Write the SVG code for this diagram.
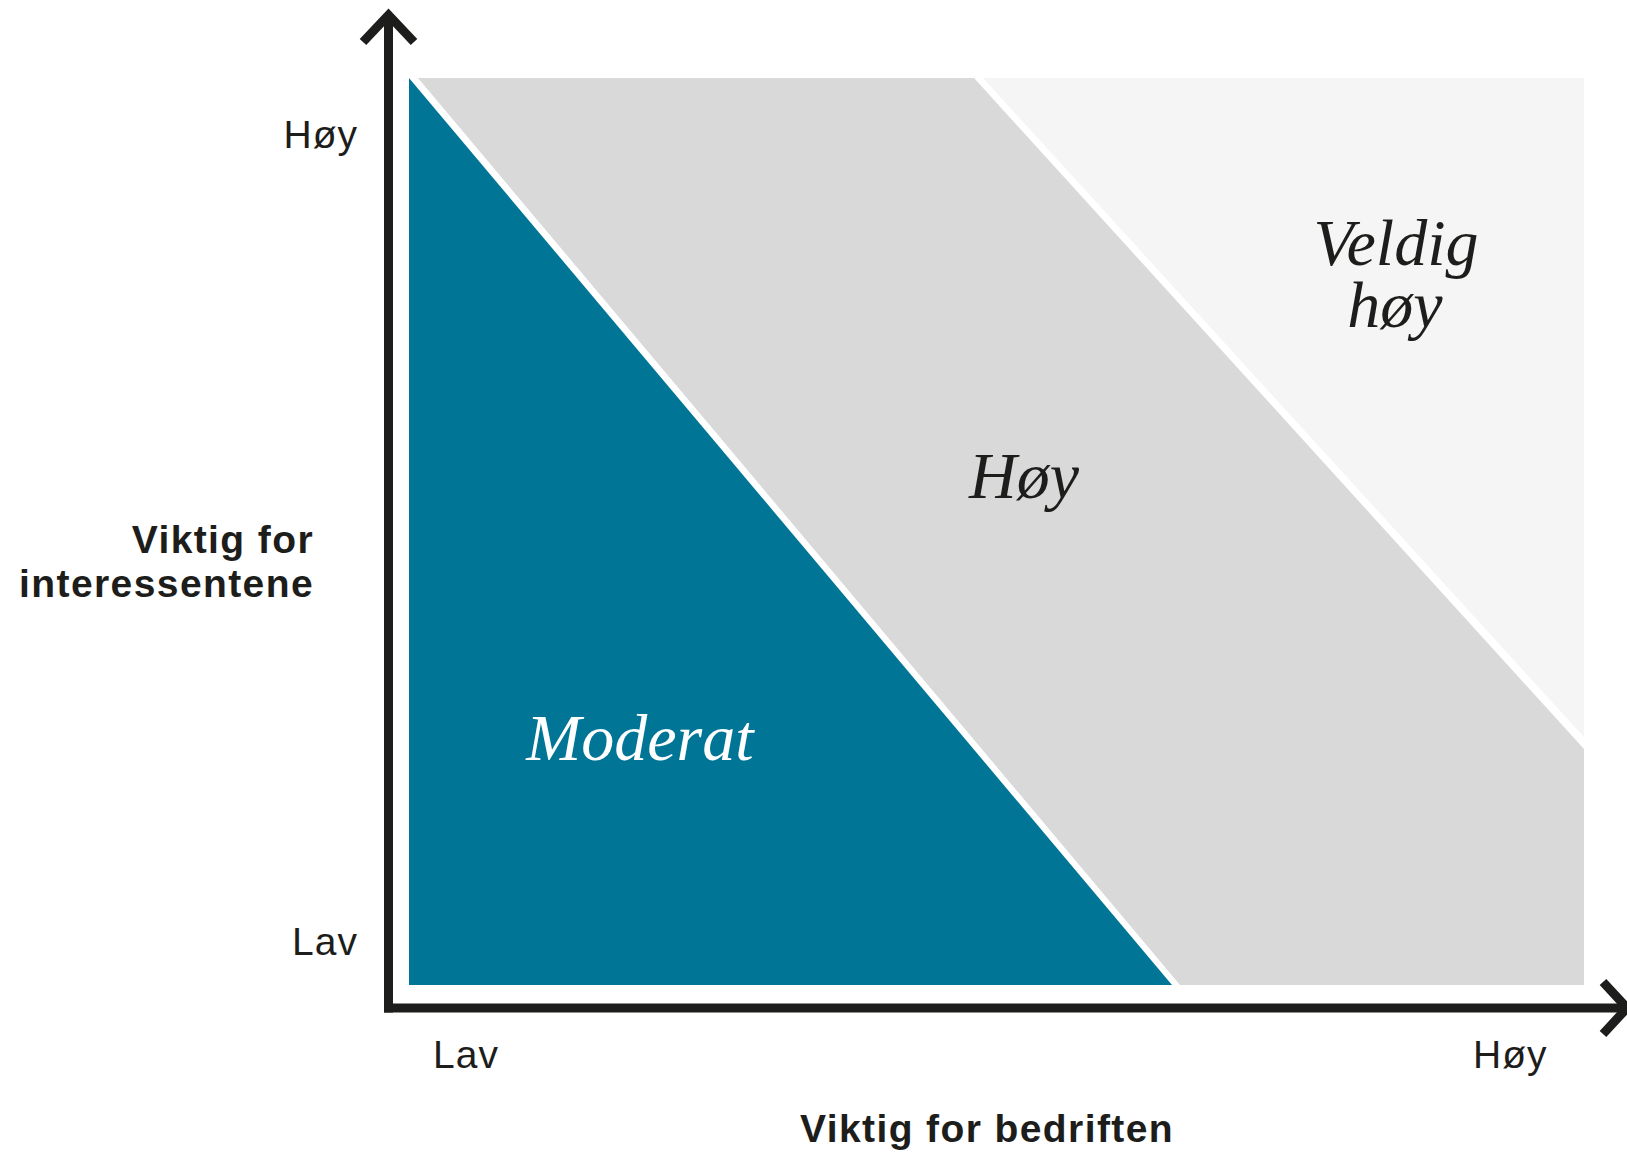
<svg xmlns="http://www.w3.org/2000/svg" width="1627" height="1154" viewBox="0 0 1627 1154">
<style>
.axis{fill:none;stroke:#1d1d1b;stroke-width:9;stroke-linejoin:miter;stroke-linecap:butt}
.lbl{font-family:"Liberation Sans",Arial,sans-serif;font-size:39px;fill:#1d1d1b;letter-spacing:1px}
.ttl{font-family:"Liberation Sans",Arial,sans-serif;font-size:39px;font-weight:bold;fill:#1d1d1b;letter-spacing:1.4px}
.zone{font-family:"Liberation Serif","Times New Roman",serif;font-style:italic;font-size:66px;fill:#1d1d1b}
</style>
<rect width="1627" height="1154" fill="#ffffff"/>
<g id="zone-veldig-hoy">
<polygon points="983,78 1584,78 1584,737" fill="#f5f5f5"/>
<text class="zone" x="1396" y="265" text-anchor="middle">Veldig</text>
<text class="zone" x="1395" y="327" text-anchor="middle">høy</text>
</g>
<g id="zone-hoy">
<polygon points="418,78 974,78 1584,749 1584,985 1180,985" fill="#d9d9d9"/>
<text class="zone" x="1024" y="498" text-anchor="middle">Høy</text>
</g>
<g id="zone-moderat">
<polygon points="409,78 1172,985 409,985" fill="#007596"/>
<text class="zone" x="640" y="760" text-anchor="middle" fill="#ffffff" style="fill:#ffffff">Moderat</text>
</g>
<g id="connectors">
<line class="axis" x1="388.5" y1="16" x2="388.5" y2="1012.5"/>
<polyline class="axis" points="363,42 388.5,15 414,42"/>
<line class="axis" x1="384" y1="1008" x2="1624" y2="1008"/>
<polyline class="axis" points="1603,982 1627,1008 1603,1034"/>
</g>
<g id="axis-labels">
<text class="lbl" x="358" y="148" text-anchor="end">Høy</text>
<text class="lbl" x="358" y="955" text-anchor="end">Lav</text>
<text class="lbl" x="433" y="1068">Lav</text>
<text class="lbl" x="1473" y="1068">Høy</text>
<text class="ttl" x="314" y="553" text-anchor="end">Viktig for</text>
<text class="ttl" x="314" y="597" text-anchor="end">interessentene</text>
<text class="ttl" x="987" y="1142" text-anchor="middle">Viktig for bedriften</text>
</g>
</svg>
